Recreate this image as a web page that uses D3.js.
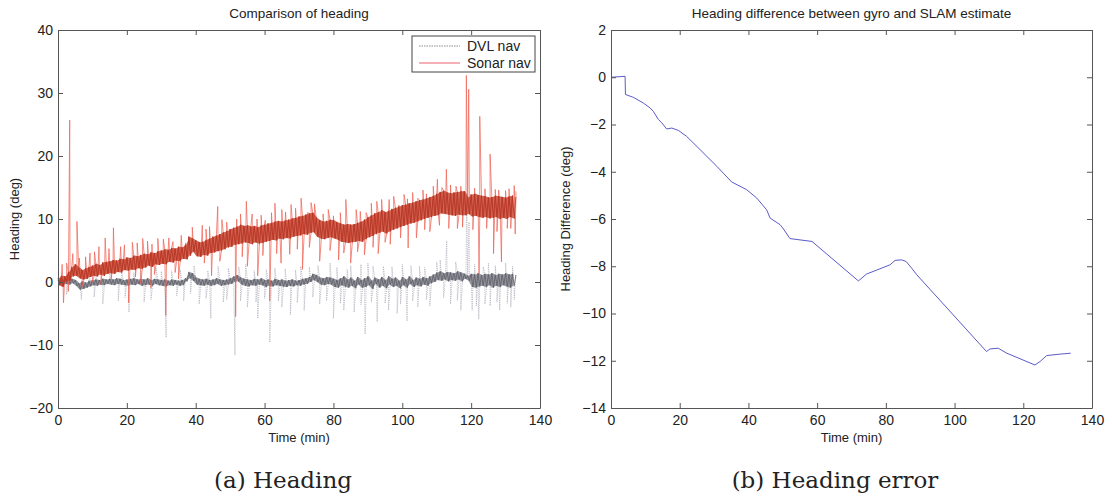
<!DOCTYPE html>
<html>
<head>
<meta charset="utf-8">
<script src="https://cdn.jsdelivr.net/npm/d3@7"></script>
<style>
  body { margin: 0; background: #fff; }
  text { font-family: "Liberation Sans", Arial, sans-serif; fill: #222; }
  .caption { font-family: "DejaVu Serif", "Liberation Serif", serif; }
</style>
</head>
<body>
<div id="chart"></div>
<script>
// ---- data ----
// left panel: samples every 0.5 min from t = 0 to 133
const sampleStep = 0.5;

const sonarNav = [
  0.6,-0.4,1.0,-0.8,0.9,0.1,1.6,0.2,2.4,0.9,
  2.8,1.0,2.3,0.6,1.9,0.4,2.2,0.5,2.4,0.8,
  2.6,1.0,2.9,0.9,2.7,1.2,3.1,1.0,3.2,1.3,
  3.3,1.4,3.5,1.3,3.4,1.6,3.7,1.5,3.6,1.9,
  3.9,1.8,3.8,2.0,4.2,1.9,4.1,2.2,4.3,2.1,
  4.5,2.3,4.4,2.6,4.7,2.4,4.6,2.8,4.9,2.7,
  5.0,2.9,5.2,2.8,5.1,3.2,5.4,3.1,5.3,3.4,
  5.6,3.3,5.5,3.7,5.9,3.6,7.2,4.2,6.9,4.8,
  6.6,4.1,6.3,4.0,6.4,4.3,6.7,4.2,6.9,4.6,
  7.2,4.7,7.4,4.9,7.6,5.0,7.9,5.2,8.1,5.5,
  8.4,5.6,8.6,5.9,8.8,6.0,9.1,6.1,8.9,6.3,
  9.0,6.2,8.8,6.0,8.9,6.3,8.7,6.1,9.0,6.2,
  9.1,6.4,9.3,6.5,9.4,6.7,9.6,6.6,9.7,6.9,
  9.6,6.8,9.8,7.0,9.9,6.9,10.1,7.2,10.2,7.3,
  10.4,7.4,10.5,7.6,10.7,7.5,10.9,7.8,11.0,7.9,
  10.2,7.2,9.8,6.9,9.6,6.8,9.7,7.0,9.9,7.1,
  9.8,6.9,9.5,6.7,9.3,6.4,9.1,6.3,9.2,6.2,
  9.1,6.3,9.2,6.4,9.4,6.5,9.6,6.4,9.9,6.8,
  10.3,7.1,10.6,7.3,10.9,7.6,11.1,7.8,11.4,8.0,
  11.1,7.7,11.3,8.0,11.6,8.3,11.8,8.5,12.0,8.7,
  12.2,8.9,12.3,9.1,12.5,9.3,12.6,9.4,12.8,9.6,
  13.0,9.8,13.1,10.0,13.3,10.2,13.5,10.3,13.7,10.5,
  14.0,10.6,14.3,10.9,14.5,10.8,14.2,10.7,14.1,10.6,
  14.2,10.5,14.3,10.7,14.4,10.6,14.4,10.6,13.4,10.8,
  13.9,10.4,14.0,10.5,13.8,10.3,13.7,10.2,13.6,10.3,
  13.4,10.1,13.5,10.2,13.7,10.3,13.6,10.0,13.5,10.2,
  13.4,10.0,13.6,10.3,13.7,10.1,13.5
];

const dvlNav = [
  0.3,-0.5,0.4,-0.6,0.5,-0.3,0.6,-0.4,0.5,-0.2,
  0.3,-0.6,-0.2,-1.2,0.1,-1.1,-0.1,-0.9,0.2,-0.7,
  0.3,-0.5,0.4,-0.6,0.3,-0.4,0.5,-0.5,0.4,-0.3,
  0.5,-0.4,0.4,-0.5,0.6,-0.3,0.5,-0.4,0.3,-0.5,
  0.4,-0.6,0.5,-0.4,0.6,-0.5,0.4,-0.3,0.5,-0.6,
  0.4,-0.5,0.6,-0.4,0.3,-0.6,0.5,-0.3,0.4,-0.5,
  0.3,-0.6,0.4,-0.7,0.2,-0.5,0.4,-0.6,0.3,-0.4,
  0.2,-0.6,0.3,-0.5,0.6,0.1,1.6,0.6,1.4,0.2,
  0.7,-0.4,0.5,-0.5,0.4,-0.6,0.5,-0.4,0.3,-0.6,
  0.4,-0.5,0.6,-0.3,0.4,-0.6,0.3,-0.5,0.4,-0.4,
  0.6,-0.3,0.9,0.0,1.1,0.1,0.7,-0.4,0.5,-0.6,
  0.4,-0.7,0.3,-0.5,0.5,-0.6,0.4,-0.4,0.6,-0.5,
  0.3,-0.8,0.4,-0.6,0.2,-0.7,0.5,-0.5,0.3,-0.6,
  0.4,-0.7,0.2,-0.8,0.3,-0.6,0.4,-0.7,0.2,-0.5,
  0.3,-0.6,0.5,-0.4,0.6,-0.3,0.8,0.0,1.3,0.3,
  1.1,0.0,0.7,-0.4,0.6,-0.5,0.8,-0.3,0.7,-0.4,
  0.5,-0.8,0.3,-0.9,0.6,-0.5,0.9,-0.7,0.4,-0.9,
  0.7,-0.6,0.2,-1.0,0.8,-0.4,0.3,-0.9,0.6,-0.8,
  0.9,-0.5,0.2,-1.1,0.7,-0.3,0.4,-0.9,0.8,-0.6,
  0.3,-1.0,0.9,-0.4,0.5,-0.8,0.7,-0.6,0.2,-1.0,
  0.8,-0.5,0.4,-0.9,0.9,-0.3,0.3,-0.8,0.7,-0.5,
  0.5,-0.7,0.8,-0.4,0.6,-0.6,0.9,-0.2,1.2,0.0,
  1.5,0.3,1.7,0.2,1.4,0.4,1.6,0.1,1.5,0.3,
  1.4,0.2,1.7,0.4,1.5,0.1,1.3,0.5,1.0,0.2,
  1.3,-0.8,1.2,-0.9,1.4,-0.7,1.1,-0.6,1.3,-0.8,
  1.2,-0.5,1.4,-0.9,1.1,-0.6,1.3,-0.8,1.2,-0.5,
  1.4,-0.7,1.2,-0.9,1.3,-0.6,1.1
];

// single-sample outliers (time in min, heading in deg)
const sonarSpikeTime = [1.2,1.6,3.4,5.5,7.0,9.3,11.9,12.5,13.7,16.1,18.2,20.5,21.6,24.0,24.6,27.0,27.3,30.6,31.3,33.4,35.0,37.1,
  41.9,44.0,44.6,46.4,49.0,51.6,51.9,54.7,55.0,57.8,58.0,60.2,61.5,63.0,64.8,66.1,67.3,67.7,70.6,71.0,72.5,74.5,76.0,77.0,
  80.0,81.5,83.6,85.0,86.6,89.0,89.5,92.6,93.0,96.2,96.5,99.0,101.5,101.7,104.1,104.5,107.0,108.0,110.2,112.8,115.6,116.0,
  118.6,119.3,122.3,122.5,125.5,126.5,128.0,128.8,131.0,131.5,132.5,
  2.5,4.3,6.2,8.0,10.6,14.8,19.3,23.0,26.0,29.0,32.2,35.8,39.0,43.0,47.6,53.0,56.4,59.0,62.0,65.0,69.0,73.5,78.5,82.0,
  87.8,91.0,94.0,97.5,100.5,103.0,106.0,109.0,111.5,114.0,117.0,121.0,124.0,127.0,130.0,133.0,
  3.0,10.0,15.5,22.5,28.0,34.0,42.5,47.0,53.5,59.5,63.5,69.5,73.0,79.0,83.0,87.0,91.5,95.0,99.5,106.5,110.8,113.5,
  117.5,120.5,124.5,127.5,130.5,132.8];
const sonarSpikeValue = [2.8,-3.3,25.7,9.6,-0.8,4.6,5.6,-0.5,7.0,8.6,5.6,-3.3,6.3,-0.3,6.9,-1.0,6.0,6.8,-5.3,6.4,0.5,6.2,
  9.0,8.8,1.0,12.0,9.5,-5.5,10.0,12.8,2.5,10.0,1.0,9.8,-3.0,12.5,3.0,11.1,4.4,12.3,13.3,2.0,11.0,12.4,3.3,10.8,
  10.5,3.5,13.1,3.0,11.5,4.3,11.0,12.8,4.5,13.1,6.0,12.2,13.2,5.4,7.0,13.3,14.0,8.0,16.3,17.9,15.2,8.5,
  32.8,30.6,1.3,26.3,20.3,4.5,14.6,3.2,14.8,8.5,15.3,
  3.0,4.5,3.8,4.0,4.8,5.3,5.9,6.2,6.5,6.9,7.0,7.4,8.7,8.4,9.9,10.8,10.8,10.6,11.0,11.5,11.7,12.6,11.5,11.0,
  11.2,12.5,13.1,13.6,13.9,14.2,14.6,15.2,15.0,15.4,15.2,14.9,14.8,14.7,14.5,14.4,
  -1.5,0.0,0.5,0.8,1.2,1.5,3.0,3.3,4.0,4.2,4.5,5.2,5.5,5.0,4.6,4.8,5.5,6.3,7.0,8.3,9.0,8.5,
  8.7,8.3,8.5,8.0,8.5,7.6];

const dvlSpikeTime = [6.8,9.0,13.0,15.0,17.5,20.6,22.0,25.0,28.5,31.4,33.0,36.5,41.0,44.4,46.5,48.0,51.4,54.5,55.0,58.0,61.5,63.0,
  65.0,67.5,70.5,71.5,76.0,79.0,80.0,83.0,85.0,86.0,89.2,90.0,92.7,94.5,96.0,98.5,100.0,101.4,104.5,105.0,108.0,110.0,
  112.9,114.0,117.0,118.7,119.4,120.3,122.2,125.0,125.5,128.3,130.0,131.5,
  3.5,11.0,18.5,24.0,30.0,35.5,39.5,43.5,49.5,52.5,57.0,60.5,66.0,69.0,73.0,75.5,81.0,84.0,88.0,91.5,97.0,102.5,
  106.5,111.0,115.5,121.0,123.5,127.0,132.0,
  2.5,10.5,19.5,27.0,34.5,38.5,43.0,49.0,53.0,57.5,60.0,64.0,69.5,74.0,78.0,82.0,88.0,91.0,95.0,99.5,103.0,107.0,
  112.0,116.0,121.5,124.0,127.5,130.5,132.5];
const dvlSpikeValue = [-2.8,1.8,-3.5,2.0,-3.0,-4.8,1.5,-3.2,2.2,-8.8,1.8,-3.0,-3.5,-5.8,2.5,-3.2,-11.6,2.8,-4.0,-5.8,-9.6,2.2,
  -4.0,-5.2,2.5,-4.5,-3.5,3.0,-5.8,-4.5,2.6,-4.8,-8.3,3.0,-6.3,2.5,-4.5,-5.0,2.8,-6.2,-4.0,2.5,-3.8,3.2,
  6.5,-3.5,-4.5,14.0,9.5,-4.5,-5.9,3.0,-3.8,-4.5,3.0,-4.0,
  1.6,1.8,1.5,2.0,1.7,1.9,2.6,1.8,2.2,2.4,1.8,2.0,2.1,1.9,2.4,2.6,2.3,2.0,2.8,2.5,2.4,2.6,
  2.3,3.5,3.2,2.8,2.4,2.6,2.5,
  -2.0,-2.4,-2.5,-2.8,-2.2,-1.8,-2.6,-2.8,-3.0,-3.2,-2.6,-3.0,-3.3,-2.4,-3.0,-3.4,-3.6,-3.2,-3.4,-3.5,-3.0,-2.8,
  -2.5,-2.9,-3.8,-3.5,-3.2,-3.4,-2.8];

// right panel: heading difference, gyro vs SLAM
const diffTime = [0,4.1,4.2,6.5,9.4,11.4,12.3,13.8,14.8,16.2,17.7,19.6,22.0,25.9,30.8,35.1,39.5,42.4,45.3,46.3,
  49.2,50.0,52.1,58.5,72.0,74.4,81.2,82.7,84.6,85.9,87.5,89.0,109.3,110.3,112.7,115.2,123.4,124.9,126.8,130.7,133.8];
const diffValue = [0,0.04,-0.73,-0.85,-1.09,-1.30,-1.44,-1.79,-1.93,-2.19,-2.15,-2.25,-2.50,-3.06,-3.77,-4.43,-4.76,-5.11,-5.61,-5.96,
  -6.24,-6.38,-6.83,-6.95,-8.62,-8.33,-7.94,-7.75,-7.73,-7.80,-8.08,-8.36,-11.61,-11.50,-11.47,-11.68,-12.18,-12.03,-11.78,-11.72,-11.68];

const timeTicks = [0, 20, 40, 60, 80, 100, 120, 140];
const headingTicks = [-20, -10, 0, 10, 20, 30, 40];
const diffTicks = [-14, -12, -10, -8, -6, -4, -2, 0, 2];

const legendLabels = ["DVL nav", "Sonar nav"];

// ---- drawing ----
var W = 1112, H = 498;
var svg = d3.select("#chart").append("svg")
  .attr("width", W)
  .attr("height", H)
  .style("background", "#fff");

var fmt = d => d < 0 ? "\u2212" + Math.abs(d) : String(d);

function samplePoints(values) {
  return values.map((v, i) => ({ t: i * sampleStep, v: v }));
}

function toPoints(values, spikeT, spikeV) {
  var pts = samplePoints(values);
  spikeT.forEach((t, i) => pts.push({ t: t, v: spikeV[i] }));
  pts.sort((a, b) => a.t - b.t);
  return pts;
}

// low / high of each pair of samples -> noise envelope
function toBand(values) {
  var out = [];
  for (var i = 0; i + 1 < values.length; i += 2) {
    out.push({ t: (i + 0.5) * sampleStep, lo: Math.min(values[i], values[i + 1]), hi: Math.max(values[i], values[i + 1]) });
  }
  return out;
}

function frame(g, x, y, xTicks, yTicks, w, h) {
  var ax = g.append("g").attr("class", "axes");
  ax.append("g").attr("transform", "translate(0," + h + ")")
    .call(d3.axisBottom(x).tickValues(xTicks).tickSize(-5).tickSizeOuter(0).tickPadding(7).tickFormat(fmt));
  ax.append("g")
    .call(d3.axisTop(x).tickValues(xTicks).tickSize(-5).tickSizeOuter(0).tickFormat(""));
  ax.append("g")
    .call(d3.axisLeft(y).tickValues(yTicks).tickSize(-5).tickSizeOuter(0).tickPadding(5).tickFormat(fmt));
  ax.append("g").attr("transform", "translate(" + w + ",0)")
    .call(d3.axisRight(y).tickValues(yTicks).tickSize(-5).tickSizeOuter(0).tickFormat(""));
  ax.selectAll("path, line").attr("stroke", "#555");
  ax.selectAll("text").style("font-size", "14px").attr("fill", "#222");
}

// left panel
var L = { left: 58, top: 30, w: 482, h: 378 };
var gL = svg.append("g").attr("transform", "translate(" + L.left + "," + L.top + ")");
var xL = d3.scaleLinear().domain([0, 140]).range([0, L.w]);
var yL = d3.scaleLinear().domain([-20, 40]).range([L.h, 0]);

gL.append("clipPath").attr("id", "clipL")
  .append("rect").attr("width", L.w).attr("height", L.h);

var lineL = d3.line().x(d => xL(d.t)).y(d => yL(d.v));
var bandL = d3.area().x(d => xL(d.t)).y0(d => yL(d.lo)).y1(d => yL(d.hi));

// DVL nav: faint dotted spikes, dense grey body
gL.append("path")
  .datum(toPoints(dvlNav, dvlSpikeTime, dvlSpikeValue))
  .attr("clip-path", "url(#clipL)")
  .attr("d", lineL)
  .attr("fill", "none")
  .attr("stroke", "#a8a8b4")
  .attr("stroke-width", 0.7)
  .attr("stroke-dasharray", "1.2,1");
gL.append("path")
  .datum(toBand(dvlNav))
  .attr("d", bandL)
  .attr("fill", "#7a7a84")
  .attr("fill-opacity", 0.8);
gL.append("path")
  .datum(samplePoints(dvlNav))
  .attr("d", lineL)
  .attr("fill", "none")
  .attr("stroke", "#5e5e68")
  .attr("stroke-width", 0.8);

// Sonar nav
gL.append("path")
  .datum(toPoints(sonarNav, sonarSpikeTime, sonarSpikeValue))
  .attr("clip-path", "url(#clipL)")
  .attr("d", lineL)
  .attr("fill", "none")
  .attr("stroke", "#ee5e50")
  .attr("stroke-width", 0.7);
gL.append("path")
  .datum(toBand(sonarNav))
  .attr("d", bandL)
  .attr("fill", "#c9412b")
  .attr("fill-opacity", 0.82);
gL.append("path")
  .datum(samplePoints(sonarNav))
  .attr("d", lineL)
  .attr("fill", "none")
  .attr("stroke", "#b03424")
  .attr("stroke-width", 0.8);

frame(gL, xL, yL, timeTicks, headingTicks, L.w, L.h);

svg.append("text")
  .attr("x", L.left + L.w / 2).attr("y", 18)
  .attr("text-anchor", "middle").style("font-size", "13.5px")
  .text("Comparison of heading");
svg.append("text")
  .attr("x", L.left + L.w / 2).attr("y", 442)
  .attr("text-anchor", "middle").style("font-size", "13px")
  .text("Time (min)");
svg.append("text")
  .attr("transform", "translate(19," + (L.top + L.h / 2) + ") rotate(-90)")
  .attr("text-anchor", "middle").style("font-size", "13px")
  .text("Heading (deg)");

// legend
var leg = gL.append("g").attr("transform", "translate(" + (412 - L.left) + "," + (36 - L.top) + ")");
leg.append("rect").attr("width", 123).attr("height", 36)
  .attr("fill", "#fff").attr("stroke", "#444").attr("stroke-width", 1);
var legStyles = [
  { stroke: "#8a8a94", dash: "1.5,1" },
  { stroke: "#f06070", dash: null }
];
legendLabels.forEach(function(lbl, i) {
  var yy = 10 + i * 17;
  leg.append("line").attr("x1", 7).attr("x2", 48).attr("y1", yy).attr("y2", yy)
    .attr("stroke", legStyles[i].stroke).attr("stroke-width", 1)
    .attr("stroke-dasharray", legStyles[i].dash);
  leg.append("text").attr("x", 55).attr("y", yy + 5)
    .style("font-size", "14px").text(lbl);
});

// right panel
var R = { left: 611, top: 30, w: 481, h: 378 };
var gR = svg.append("g").attr("transform", "translate(" + R.left + "," + R.top + ")");
var xR = d3.scaleLinear().domain([0, 140]).range([0, R.w]);
var yR = d3.scaleLinear().domain([-14, 2]).range([R.h, 0]);

gR.append("path")
  .datum(diffTime.map((t, i) => ({ t: t, v: diffValue[i] })))
  .attr("d", d3.line().x(d => xR(d.t)).y(d => yR(d.v)))
  .attr("fill", "none")
  .attr("stroke", "#5b5bc8")
  .attr("stroke-width", 1);

frame(gR, xR, yR, timeTicks, diffTicks, R.w, R.h);

svg.append("text")
  .attr("x", R.left + R.w / 2).attr("y", 18)
  .attr("text-anchor", "middle").style("font-size", "13.5px")
  .text("Heading difference between gyro and SLAM estimate");
svg.append("text")
  .attr("x", R.left + R.w / 2).attr("y", 442)
  .attr("text-anchor", "middle").style("font-size", "13px")
  .text("Time (min)");
svg.append("text")
  .attr("transform", "translate(570," + (R.top + R.h / 2) + ") rotate(-90)")
  .attr("text-anchor", "middle").style("font-size", "13px")
  .text("Heading Difference (deg)");

// sub-figure captions
svg.append("text").attr("class", "caption")
  .attr("x", 283).attr("y", 488)
  .attr("text-anchor", "middle").style("font-size", "23px")
  .text("(a) Heading");
svg.append("text").attr("class", "caption")
  .attr("x", 835).attr("y", 488)
  .attr("text-anchor", "middle").style("font-size", "23px")
  .text("(b) Heading error");
</script>
</body>
</html>
